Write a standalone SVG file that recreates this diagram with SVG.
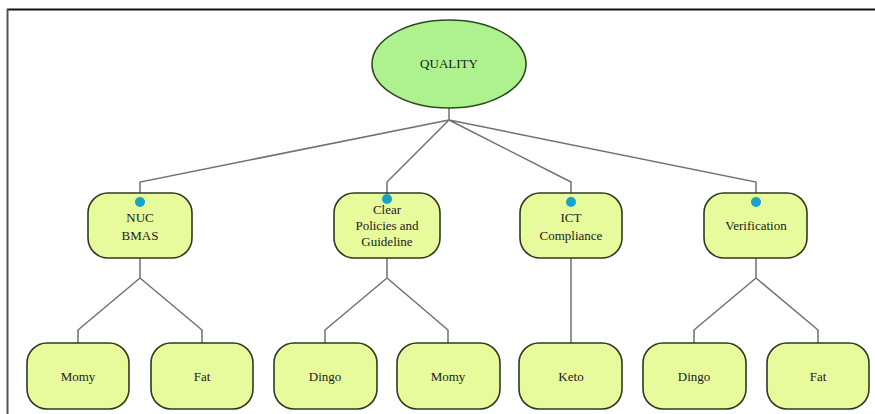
<svg xmlns="http://www.w3.org/2000/svg" width="875" height="414" viewBox="0 0 875 414">
<style>
.box{fill:#e7fb9d;stroke:#2e3a1f;stroke-width:1.6}
.lbl{font-family:"Liberation Serif","Times New Roman",serif;font-size:13px;fill:#1a1a1a;text-anchor:middle}
.con{fill:none;stroke:#707070;stroke-width:1.5}
.dot{fill:#16a2c9}
</style>
<rect width="875" height="414" fill="#ffffff"/>
<g id="frame">
<line x1="7" y1="9.5" x2="875" y2="9.5" stroke="#111" stroke-width="2"/>
<line x1="7.5" y1="9" x2="7.5" y2="414" stroke="#555" stroke-width="2"/>
</g>
<g id="connectors">
<path class="con" d="M449,108 V120 M449,120 L140,182 V193 M449,120 L387,182 V193 M449,120 L571,182 V193 M449,120 L756,182 V193"/>
<path class="con" d="M140,258 V278 L78,330 V343 M140,278 L202,330 V343"/>
<path class="con" d="M387,258 V278 L325,330 V343 M387,278 L448,330 V343"/>
<path class="con" d="M571,258 V343"/>
<path class="con" d="M756,258 V278 L694,330 V343 M756,278 L818,330 V343"/>
</g>
<g id="quality">
<ellipse cx="449" cy="64" rx="77" ry="44" fill="#adf28f" stroke="#2d4a1e" stroke-width="1.6"/>
<text class="lbl" x="449" y="68">QUALITY</text>
</g>
<g id="nuc">
<rect class="box" x="88" y="193" width="104" height="65" rx="20"/>
<circle class="dot" cx="140" cy="202" r="5"/>
<text class="lbl" x="140" y="222">NUC</text>
<text class="lbl" x="140" y="240">BMAS</text>
</g>
<g id="clear">
<rect class="box" x="334" y="193" width="106" height="65" rx="20"/>
<circle class="dot" cx="387" cy="199" r="5"/>
<text class="lbl" x="387" y="214">Clear</text>
<text class="lbl" x="387" y="230">Policies and</text>
<text class="lbl" x="387" y="246">Guideline</text>
</g>
<g id="ict">
<rect class="box" x="520" y="193" width="102" height="65" rx="20"/>
<circle class="dot" cx="571" cy="202" r="5"/>
<text class="lbl" x="571" y="222">ICT</text>
<text class="lbl" x="571" y="240">Compliance</text>
</g>
<g id="verification">
<rect class="box" x="704" y="193" width="103" height="65" rx="20"/>
<circle class="dot" cx="756" cy="202" r="5"/>
<text class="lbl" x="756" y="230">Verification</text>
</g>
<g id="momy1">
<rect class="box" x="27" y="343" width="102" height="66" rx="20"/>
<text class="lbl" x="78" y="381">Momy</text>
</g>
<g id="fat1">
<rect class="box" x="151" y="343" width="102" height="66" rx="20"/>
<text class="lbl" x="202" y="381">Fat</text>
</g>
<g id="dingo1">
<rect class="box" x="274" y="343" width="103" height="66" rx="20"/>
<text class="lbl" x="325" y="381">Dingo</text>
</g>
<g id="momy2">
<rect class="box" x="397" y="343" width="103" height="66" rx="20"/>
<text class="lbl" x="448" y="381">Momy</text>
</g>
<g id="keto">
<rect class="box" x="519" y="343" width="103" height="66" rx="20"/>
<text class="lbl" x="571" y="381">Keto</text>
</g>
<g id="dingo2">
<rect class="box" x="643" y="343" width="103" height="66" rx="20"/>
<text class="lbl" x="694" y="381">Dingo</text>
</g>
<g id="fat2">
<rect class="box" x="767" y="343" width="102" height="66" rx="20"/>
<text class="lbl" x="818" y="381">Fat</text>
</g>
</svg>
